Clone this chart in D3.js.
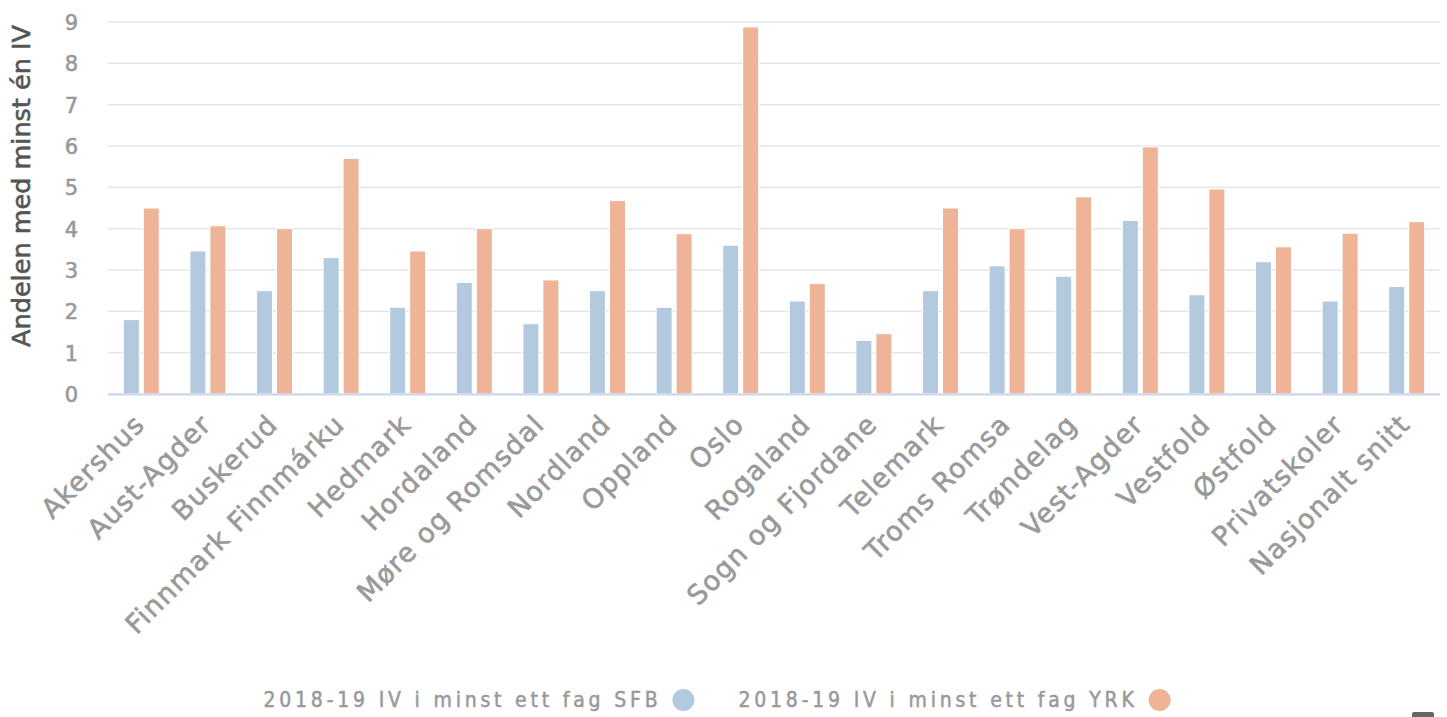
<!DOCTYPE html>
<html lang="no">
<head>
    <meta charset="UTF-8">
    <title>Andelen med minst én IV</title>
    <style>
        body { margin: 0; background: #fff; }
        svg { display: block; font-family: "DejaVu Sans", sans-serif; }
    </style>
</head>
<body>
    <div id="chart"></div>
    <script src="https://d3js.org/d3.v7.min.js"></script>
    <script>
        // chart data
        const categories = ["Akershus", "Aust-Agder", "Buskerud", "Finnmark Finnmárku", "Hedmark",
            "Hordaland", "Møre og Romsdal", "Nordland", "Oppland", "Oslo", "Rogaland",
            "Sogn og Fjordane", "Telemark", "Troms Romsa", "Trøndelag", "Vest-Agder",
            "Vestfold", "Østfold", "Privatskoler", "Nasjonalt snitt"];
        const sfbValues = [1.8, 3.46, 2.5, 3.3, 2.1, 2.7, 1.7, 2.5, 2.1, 3.6, 2.25,
            1.3, 2.5, 3.1, 2.85, 4.2, 2.4, 3.2, 2.25, 2.6];
        const yrkValues = [4.5, 4.07, 4.0, 5.7, 3.46, 4.0, 2.76, 4.68, 3.88, 8.88, 2.67,
            1.46, 4.5, 4.0, 4.77, 5.98, 4.96, 3.56, 3.89, 4.17];
        const seriesNames = ["2018-19 IV i minst ett fag SFB", "2018-19 IV i minst ett fag YRK"];
        const seriesColors = ["#b3c9de", "#efb497"];
        const yTicks = [0, 1, 2, 3, 4, 5, 6, 7, 8, 9];
        const yTitle = "Andelen med minst én IV";

        const width = 1447, height = 717;
        const margin = {top: 22, right: 7, bottom: 323, left: 108};

        const svg = d3.select("#chart")
            .append("svg")
            .attr("width", width)
            .attr("height", height);

        const x = d3.scaleBand()
            .domain(categories)
            .range([margin.left, width - margin.right]);

        const bw = x.bandwidth();
        const x1 = d3.scaleBand()
            .domain([0, 1])
            .range([0.2 * bw, 0.8 * bw])
            .paddingInner(0.2)
            .paddingOuter(0.1);

        const y = d3.scaleLinear()
            .domain([0, 9])
            .range([height - margin.bottom, margin.top]);

        // grid lines
        svg.append("g")
            .selectAll("line")
            .data(yTicks)
            .join("line")
            .attr("x1", margin.left)
            .attr("x2", width - margin.right)
            .attr("y1", d => y(d))
            .attr("y2", d => y(d))
            .attr("stroke", "#e6e6e6")
            .attr("stroke-width", 1.5);

        // y labels (thin stroke to get a semi-bold look)
        const yAxis = svg.append("g")
            .attr("transform", `translate(${margin.left - 30},0)`)
            .call(d3.axisLeft(y).tickValues(yTicks).tickSize(0).tickPadding(0));
        yAxis.select(".domain").remove();
        yAxis.selectAll("text")
            .attr("fill", "#999")
            .attr("stroke", "#999")
            .attr("stroke-width", 0.6)
            .attr("font-size", 21)
            .attr("font-family", "DejaVu Sans, sans-serif")
            .attr("dy", "0.35em");

        // y title
        svg.append("text")
            .attr("transform", `translate(30,186) rotate(-90)`)
            .attr("text-anchor", "middle")
            .attr("fill", "#555")
            .attr("stroke", "#555")
            .attr("stroke-width", 0.6)
            .attr("font-size", 25.5)
            .text(yTitle);

        // bars
        const rows = categories.map((c, i) => ({cat: c, vals: [sfbValues[i], yrkValues[i]]}));
        svg.append("g")
            .selectAll("g")
            .data(rows)
            .join("g")
            .attr("transform", d => `translate(${x(d.cat)},0)`)
            .selectAll("rect")
            .data(d => d.vals.map((v, s) => ({v, s})))
            .join("rect")
            .attr("x", d => x1(d.s))
            .attr("width", x1.bandwidth())
            .attr("y", d => y(d.v))
            .attr("height", d => y(0) - y(d.v))
            .attr("fill", d => seriesColors[d.s])
            .attr("stroke", "#fff")
            .attr("stroke-width", 1);

        // x axis line
        svg.append("line")
            .attr("x1", margin.left)
            .attr("x2", width - margin.right)
            .attr("y1", y(0) + 0.5)
            .attr("y2", y(0) + 0.5)
            .attr("stroke", "#ccd6eb")
            .attr("stroke-width", 2);

        // x labels
        svg.append("g")
            .selectAll("text")
            .data(categories)
            .join("text")
            .attr("transform", d => `translate(${x(d) + bw / 2 + 5},${y(0) + 32}) rotate(-45)`)
            .attr("text-anchor", "end")
            .attr("fill", "#999")
            .attr("stroke", "#999")
            .attr("stroke-width", 0.6)
            .attr("font-size", 27)
            .attr("letter-spacing", 1.2)
            .text(d => d);

        // legend
        const legend = svg.append("g");
        const items = legend.selectAll("g")
            .data(seriesNames)
            .join("g");
        items.append("text")
            .attr("fill", "#999")
            .attr("stroke", "#999")
            .attr("stroke-width", 0.5)
            .attr("font-size", 21)
            .attr("font-family", "DejaVu Sans Condensed, sans-serif")
            .attr("letter-spacing", 3.8)
            .text(d => d);
        let cursor = 0;
        items.each(function () {
            const g = d3.select(this);
            const w = g.select("text").node().getComputedTextLength();
            g.attr("transform", `translate(${cursor},0)`);
            g.append("circle")
                .attr("cx", w + 22)
                .attr("cy", -7)
                .attr("r", 11)
                .attr("fill", (d, i) => seriesColors[seriesNames.indexOf(d)]);
            cursor += w + 77;
        });
        const legendWidth = cursor - 43;
        legend.attr("transform", `translate(${(width - legendWidth) / 2 - 6},${height - 10})`);

        // export button edge
        svg.append("rect")
            .attr("x", 1412)
            .attr("y", 712)
            .attr("width", 22)
            .attr("height", 8)
            .attr("rx", 2)
            .attr("fill", "#666");
    </script>
</body>
</html>
